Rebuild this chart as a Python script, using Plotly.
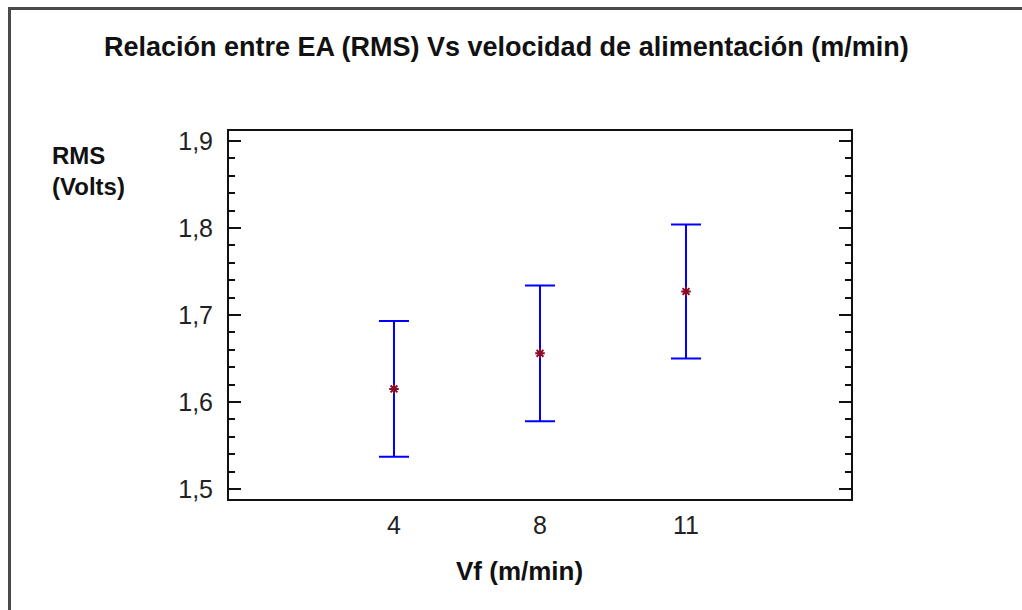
import plotly.graph_objects as go

# Data
categories = ["4", "8", "11"]
rms_mean = [1.615, 1.656, 1.727]
rms_err = [0.078, 0.078, 0.077]
y_ticks = [1.5, 1.6, 1.7, 1.8, 1.9]

W, H = 1022, 610
L, R, T, B = 229, 851, 131, 499  # plot area pixels

def px_x(px):
    return (px - L) / (R - L)

def px_y(py):
    return (B - py) / (B - T)

fig = go.Figure()
fig.add_trace(go.Scatter(
    x=categories, y=rms_mean, mode="markers",
    marker=dict(symbol="asterisk", size=8, color="#8b0a2a",
                line=dict(color="#8b0a2a", width=2)),
    error_y=dict(type="data", array=rms_err, visible=True,
                 color="#0000ff", thickness=2, width=15),
    showlegend=False, hoverinfo="skip",
))

font_family = "Liberation Sans, Arial, sans-serif"

fig.update_layout(
    width=W, height=H,
    margin=dict(l=L, r=W - R, t=T, b=H - B, pad=0),
    paper_bgcolor="white", plot_bgcolor="white",
    separators=",.",
    font=dict(family=font_family, color="#111111"),
    showlegend=False,
    xaxis=dict(
        type="category", range=[-1.13, 3.13],
        showgrid=False, zeroline=False,
        showline=True, linecolor="#111111", linewidth=2, mirror=True,
        ticks="", tickfont=dict(size=25, color="#222222"),
        ticklabelstandoff=3,
    ),
    yaxis=dict(
        range=[1.4885, 1.9115],
        tickvals=y_ticks, tickformat=".1f",
        showgrid=False, zeroline=False,
        showline=True, linecolor="#111111", linewidth=2, mirror="ticks",
        ticks="inside", ticklen=12, tickwidth=2, tickcolor="#111111",
        minor=dict(dtick=0.02, tick0=1.5, ticks="inside", ticklen=6,
                   tickwidth=2, tickcolor="#111111", showgrid=False),
        tickfont=dict(size=25, color="#222222"),
        ticklabelstandoff=9,
    ),
)

# Title
fig.add_annotation(
    text="<b>Relación entre EA (RMS) Vs velocidad de alimentación (m/min)</b>",
    xref="paper", yref="paper", x=px_x(506), y=px_y(47),
    xanchor="center", yanchor="middle", showarrow=False,
    font=dict(size=27, family=font_family, color="#111111"),
)
# Y axis title
fig.add_annotation(
    text="<b>RMS</b><br><b>(Volts)</b>",
    xref="paper", yref="paper", x=px_x(50), y=px_y(140),
    xanchor="left", yanchor="top", align="left", showarrow=False,
    font=dict(size=24, family=font_family, color="#111111"),
)
# X axis title
fig.add_annotation(
    text="<b>Vf (m/min)</b>",
    xref="paper", yref="paper", x=px_x(519), y=px_y(571),
    xanchor="center", yanchor="middle", showarrow=False,
    font=dict(size=26, family=font_family, color="#111111"),
)

# Partial outer frame (top and left)
fig.add_shape(type="line", xref="paper", yref="paper",
              x0=px_x(8), x1=px_x(1030), y0=px_y(8.5), y1=px_y(8.5),
              line=dict(color="#4a4a4a", width=3))
fig.add_shape(type="line", xref="paper", yref="paper",
              x0=px_x(9.5), x1=px_x(9.5), y0=px_y(7), y1=px_y(620),
              line=dict(color="#4a4a4a", width=3))

fig.write_html("out.html")
